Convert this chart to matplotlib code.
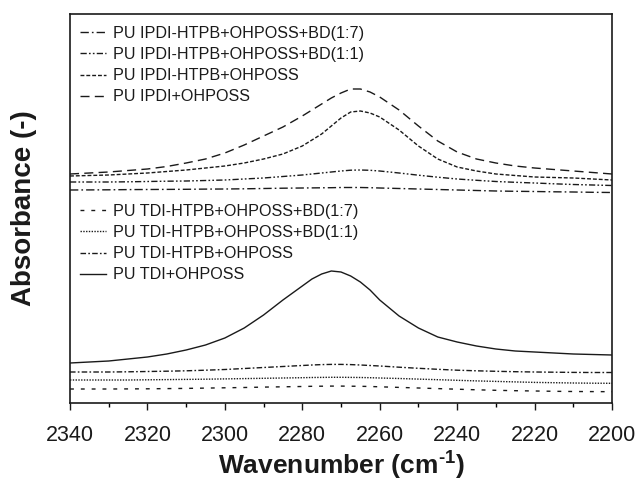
import matplotlib
matplotlib.use("Agg")
import matplotlib.pyplot as plt
from matplotlib.ticker import MultipleLocator

plt.rcParams['font.family'] = ['Liberation Sans', 'DejaVu Sans']
plt.rcParams['mathtext.fontset'] = 'custom'
plt.rcParams['mathtext.bf'] = 'Liberation Sans:bold'
plt.rcParams['mathtext.rm'] = 'Liberation Sans:bold'
plt.rcParams['lines.scale_dashes'] = False

# ---------------- data ----------------
wavenumber = [2340, 2335, 2330, 2325, 2320, 2315, 2310, 2305, 2300, 2295, 2290, 2285,
              2280, 2277.5, 2275, 2272.5, 2270, 2267.5, 2265, 2262.5, 2260, 2255,
              2250, 2245, 2240, 2235, 2230, 2225, 2220, 2215, 2210, 2205, 2200]

ipdi_bd17 = [2.13, 2.131, 2.132, 2.134, 2.135, 2.136, 2.137, 2.139, 2.14, 2.142, 2.145, 2.148,
             2.15, 2.151, 2.152, 2.153, 2.155, 2.155, 2.155, 2.153, 2.15, 2.145,
             2.14, 2.135, 2.13, 2.125, 2.12, 2.117, 2.115, 2.112, 2.11, 2.107, 2.105]
ipdi_bd11 = [2.21, 2.21, 2.21, 2.212, 2.215, 2.218, 2.22, 2.225, 2.23, 2.24, 2.25, 2.265,
             2.28, 2.29, 2.30, 2.31, 2.32, 2.328, 2.33, 2.327, 2.32, 2.30,
             2.278, 2.258, 2.24, 2.227, 2.215, 2.207, 2.20, 2.192, 2.185, 2.18, 2.175]
ipdi_htpb = [2.27, 2.275, 2.28, 2.29, 2.30, 2.315, 2.33, 2.35, 2.37, 2.40, 2.44, 2.49,
             2.57, 2.63, 2.69, 2.77, 2.85, 2.91, 2.92, 2.90, 2.86, 2.73,
             2.57, 2.44, 2.36, 2.32, 2.29, 2.275, 2.26, 2.255, 2.25, 2.24, 2.23]
ipdi_ohposs = [2.29, 2.30, 2.31, 2.325, 2.34, 2.365, 2.40, 2.44, 2.50, 2.58, 2.67, 2.76,
               2.87, 2.93, 2.99, 3.05, 3.10, 3.14, 3.14, 3.11, 3.06, 2.93,
               2.77, 2.62, 2.51, 2.44, 2.40, 2.37, 2.35, 2.335, 2.32, 2.305, 2.29]

tdi_bd17 = [0.14, 0.14, 0.14, 0.141, 0.142, 0.144, 0.146, 0.149, 0.152, 0.155, 0.159, 0.162,
            0.165, 0.167, 0.168, 0.169, 0.169, 0.168, 0.167, 0.165, 0.162, 0.156,
            0.15, 0.144, 0.138, 0.132, 0.127, 0.123, 0.12, 0.117, 0.115, 0.114, 0.113]
tdi_bd11 = [0.23, 0.23, 0.23, 0.23, 0.232, 0.234, 0.236, 0.238, 0.241, 0.244, 0.247, 0.25,
            0.253, 0.255, 0.256, 0.257, 0.257, 0.256, 0.255, 0.253, 0.25, 0.245,
            0.239, 0.233, 0.227, 0.221, 0.216, 0.211, 0.206, 0.203, 0.20, 0.198, 0.197]
tdi_htpb = [0.31, 0.31, 0.31, 0.312, 0.315, 0.318, 0.322, 0.328, 0.335, 0.345, 0.355, 0.365,
            0.375, 0.38, 0.384, 0.386, 0.386, 0.384, 0.38, 0.375, 0.37, 0.358,
            0.347, 0.337, 0.328, 0.322, 0.317, 0.313, 0.31, 0.308, 0.306, 0.305, 0.305]
tdi_ohposs = [0.40, 0.41, 0.42, 0.44, 0.46, 0.49, 0.53, 0.58, 0.65, 0.75, 0.88, 1.03,
              1.17, 1.24, 1.29, 1.32, 1.31, 1.27, 1.21, 1.13, 1.03, 0.87,
              0.75, 0.66, 0.61, 0.57, 0.54, 0.52, 0.51, 0.50, 0.49, 0.485, 0.48]

ipdi_labels = ["PU IPDI-HTPB+OHPOSS+BD(1:7)", "PU IPDI-HTPB+OHPOSS+BD(1:1)",
               "PU IPDI-HTPB+OHPOSS", "PU IPDI+OHPOSS"]
tdi_labels = ["PU TDI-HTPB+OHPOSS+BD(1:7)", "PU TDI-HTPB+OHPOSS+BD(1:1)",
              "PU TDI-HTPB+OHPOSS", "PU TDI+OHPOSS"]

# ---------------- styles ----------------
C = '#1a1a1a'
LW = 1.0
ipdi_styles = [(0, (6, 2.2, 1.2, 2.2)),
               (0, (4.5, 1.6, 1.2, 1.6, 1.2, 1.6)),
               (0, (2.8, 1.4)),
               (0, (6.5, 3.8))]
tdi_styles = [(0, (2.8, 5.0)),
              (0, (1.0, 1.0)),
              (0, (4.0, 1.6, 1.2, 1.6)),
              '-']

fig = plt.figure(figsize=(6.37, 4.80), dpi=100)
ax = fig.add_axes([70/637, 1-403/480, (612-70)/637, (403-14)/480])

ipdi_data = [ipdi_bd17, ipdi_bd11, ipdi_htpb, ipdi_ohposs]
tdi_data = [tdi_bd17, tdi_bd11, tdi_htpb, tdi_ohposs]

h1 = []
for d, ls, lab in zip(ipdi_data, ipdi_styles, ipdi_labels):
    l, = ax.plot(wavenumber, d, color=C, lw=LW, linestyle=ls, label=lab)
    h1.append(l)
h2 = []
for d, ls, lab in zip(tdi_data, tdi_styles, tdi_labels):
    l, = ax.plot(wavenumber, d, color=C, lw=LW, linestyle=ls, label=lab)
    h2.append(l)

ax.set_xlim(2340, 2200)
ax.set_ylim(0, 3.89)
ax.xaxis.set_major_locator(MultipleLocator(20))
ax.xaxis.set_minor_locator(MultipleLocator(10))
ax.set_yticks([])
ax.tick_params(axis='x', which='major', direction='out', length=5, width=1.0,
               labelsize=15.5, pad=11, colors=C)
ax.tick_params(axis='x', which='minor', direction='out', length=3, width=1.0)
for s in ax.spines.values():
    s.set_linewidth(1.2)
    s.set_color(C)

ax.set_xlabel(r'Wavenumber (cm$^{\text{-1}}$)', fontsize=19, fontweight='bold',
              color=C, labelpad=1)
ax.set_ylabel('Absorbance (-)', fontsize=20, fontweight='bold', color=C, labelpad=24)

leg_kw = dict(frameon=False, fontsize=11.6, handlelength=1.6, handletextpad=0.45,
              labelspacing=0.38, borderpad=0, borderaxespad=0, loc='upper left')
leg1 = ax.legend(handles=h1, bbox_to_anchor=(80/637, 1-26/480),
                 bbox_transform=fig.transFigure, **leg_kw)
for t in leg1.get_texts():
    t.set_color(C)
ax.add_artist(leg1)
leg2 = ax.legend(handles=h2, bbox_to_anchor=(80/637, 1-204/480),
                 bbox_transform=fig.transFigure, **leg_kw)
for t in leg2.get_texts():
    t.set_color(C)

fig.savefig('out.png', dpi=100)
